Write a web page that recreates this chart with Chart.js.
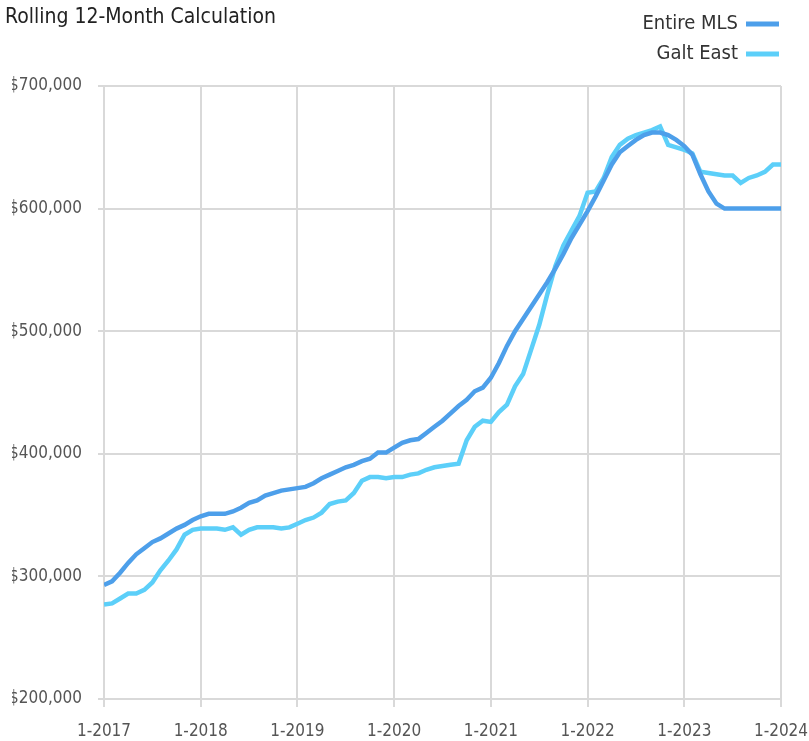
<!DOCTYPE html>
<html>
<head>
<meta charset="utf-8">
<script src="https://cdn.jsdelivr.net/npm/chart.js@4/dist/chart.umd.min.js"></script>
<style>
  html, body { margin: 0; padding: 0; background: #fff; }
  #wrap { position: relative; width: 809px; height: 741px; }
</style>
</head>
<body>
<div id="wrap"><canvas id="priceChart"></canvas></div>
<script>
const FONT = '"DejaVu Sans Condensed", "Liberation Sans Narrow", "Roboto", sans-serif';

const chartTitle = "Rolling 12-Month Calculation";
const yearTicks = ["1-2017", "1-2018", "1-2019", "1-2020", "1-2021", "1-2022", "1-2023", "1-2024"];

// monthly values, Jan 2017 .. Jan 2024 (in $1,000)
const entireMls = [
  293, 296, 303, 311, 318, 323, 328, 331, 335, 339, 342, 346,
  349, 351, 351, 351, 353, 356, 360, 362, 366, 368, 370, 371,
  372, 373, 376, 380, 383, 386, 389, 391, 394, 396, 401, 401,
  405, 409, 411, 412, 417, 422, 427, 433, 439, 444, 451, 454,
  462, 474, 488, 500, 510, 520, 530, 540, 551, 563, 576, 587,
  598, 610, 623, 636, 646, 651, 656, 660, 662, 662, 660, 656,
  651, 644, 628, 614, 604, 600, 600, 600, 600, 600, 600, 600,
  600
];

const galtEast = [
  277, 278, 282, 286, 286, 289, 295, 305, 313, 322, 334, 338,
  339, 339, 339, 338, 340, 334, 338, 340, 340, 340, 339, 340,
  343, 346, 348, 352, 359, 361, 362, 368, 378, 381, 381, 380,
  381, 381, 383, 384, 387, 389, 390, 391, 392, 411, 422, 427,
  426, 434, 440, 455, 465, 485, 505, 530, 553, 570, 582, 594,
  613, 614, 625, 642, 652, 657, 660, 662, 664, 667, 652, 650,
  648, 645, 630, 629, 628, 627, 627, 621, 625, 627, 630, 636,
  636
];

const seriesNames = ["Entire MLS", "Galt East"];
const seriesColors = ["#4d9fea", "#5ccff9"];

function toPoints(values) {
  return values.map((v, i) => ({ x: i, y: v * 1000 }));
}

// title top left, legend as text followed by a short line, stacked on the right
const sideLegend = {
  id: "sideLegend",
  afterDraw(chart) {
    const ctx = chart.ctx;
    ctx.save();
    ctx.fillStyle = "#222";
    ctx.font = "21px " + FONT;
    ctx.textAlign = "left";
    ctx.textBaseline = "alphabetic";
    ctx.fillText(chartTitle, 5, 23);

    ctx.font = "20px " + FONT;
    ctx.textAlign = "right";
    ctx.textBaseline = "middle";
    chart.data.datasets.forEach((ds, i) => {
      const y = 24 + i * 30;
      ctx.fillStyle = "#333";
      ctx.fillText(ds.label, 738, y);
      ctx.strokeStyle = ds.borderColor;
      ctx.lineWidth = 5;
      ctx.beginPath();
      ctx.moveTo(746, y);
      ctx.lineTo(779, y);
      ctx.stroke();
    });
    ctx.restore();
  }
};

new Chart(document.getElementById("priceChart"), {
  type: "line",
  data: {
    datasets: [
      {
        label: seriesNames[0],
        data: toPoints(entireMls),
        borderColor: seriesColors[0],
        borderWidth: 4.5,
        pointRadius: 0,
        tension: 0,
        fill: false
      },
      {
        label: seriesNames[1],
        data: toPoints(galtEast),
        borderColor: seriesColors[1],
        borderWidth: 4.5,
        pointRadius: 0,
        tension: 0,
        fill: false
      }
    ]
  },
  options: {
    responsive: true,
    maintainAspectRatio: false,
    animation: false,
    layout: {
      padding: { top: 86, left: 12, right: 0, bottom: 0 }
    },
    plugins: {
      legend: { display: false },
      title: { display: false },
      tooltip: { enabled: false }
    },
    scales: {
      x: {
        type: "linear",
        min: 0,
        max: 84,
        ticks: {
          stepSize: 12,
          color: "#555",
          font: { family: FONT, size: 17 },
          padding: 14,
          maxRotation: 0,
          callback: v => yearTicks[v / 12]
        },
        grid: { color: "#d9d9d9", lineWidth: 2, tickLength: 8 },
        border: { display: false },
        afterFit(scale) {
          scale.height = 42;
          scale.paddingLeft = 0;
          scale.paddingRight = 28;
        }
      },
      y: {
        min: 200000,
        max: 700000,
        ticks: {
          stepSize: 100000,
          color: "#555",
          font: { family: FONT, size: 17 },
          padding: 16,
          callback: v => "$" + v.toLocaleString("en-US")
        },
        grid: { color: "#d9d9d9", lineWidth: 2, tickLength: 6 },
        border: { display: false },
        afterFit(scale) { scale.width = 92; }
      }
    }
  },
  plugins: [sideLegend]
});
</script>
</body>
</html>
